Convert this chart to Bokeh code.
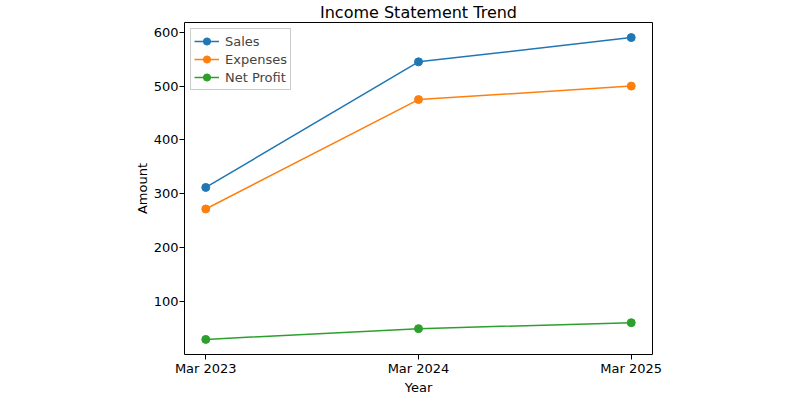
from bokeh.plotting import figure
from bokeh.embed import file_html
from bokeh.resources import INLINE
from bokeh.models import Range1d, FixedTicker, Legend, LegendItem

years = ["Mar 2023", "Mar 2024", "Mar 2025"]
sales = [312, 545, 590]
expenses = [272, 475, 500]
net_profit = [30, 50, 61]
y_ticks = [100, 200, 300, 400, 500, 600]

FONT = "DejaVu Sans"
xs = list(range(len(years)))

p = figure(width=800, height=400, output_backend="svg", toolbar_location=None,
           frame_width=468, frame_height=332,
           min_border_left=184, min_border_right=148, min_border_bottom=45, min_border_top=0,
           x_range=Range1d(-0.1, 2.1), y_range=Range1d(2, 618),
           title="Income Statement Trend")

p.title.text_font = FONT
p.title.text_font_size = "16px"
p.title.text_font_style = "normal"
p.title.align = "center"
p.title.text_color = "black"
p.title.standoff = 1
p.title.offset = 0

series = [("Sales", sales, "#1f77b4"), ("Expenses", expenses, "#ff7f0e"), ("Net Profit", net_profit, "#2ca02c")]
items = []
for name, vals, col in series:
    l = p.line(xs, vals, line_color=col, line_width=1.5)
    s = p.scatter(xs, vals, size=8, fill_color=col, line_color=col)
    items.append(LegendItem(label=name, renderers=[l, s]))

leg = Legend(items=items, location="top_left")
leg.label_text_font = FONT
leg.label_text_font_size = "13px"
leg.border_line_color = "#cccccc"
leg.border_line_width = 1
leg.border_line_alpha = 1
leg.background_fill_alpha = 0.8
leg.margin = 6
leg.padding = 3
leg.spacing = 0
leg.glyph_width = 25
leg.glyph_height = 18
leg.label_height = 18
leg.label_standoff = 6
p.add_layout(leg, "center")

p.grid.visible = False
p.outline_line_color = "black"
p.outline_line_width = 1
p.outline_line_alpha = 1

p.xaxis.ticker = FixedTicker(ticks=xs)
p.xaxis.major_label_overrides = {i: y for i, y in enumerate(years)}
p.yaxis.ticker = FixedTicker(ticks=y_ticks)
p.xaxis.axis_label = "Year"
p.yaxis.axis_label = "Amount"

for ax in (p.xaxis[0], p.yaxis[0]):
    ax.axis_line_color = None
    ax.minor_tick_line_color = None
    ax.major_tick_in = 0
    ax.major_tick_out = 5
    ax.major_tick_line_color = "black"
    ax.major_label_text_font = FONT
    ax.major_label_text_font_size = "13px"
    ax.major_label_text_color = "black"
    ax.axis_label_text_font = FONT
    ax.axis_label_text_font_size = "13px"
    ax.axis_label_text_font_style = "normal"
    ax.axis_label_text_color = "black"
    ax.major_label_standoff = 1
    ax.axis_label_standoff = 1

open("out.html", "w").write(file_html(p, INLINE))
